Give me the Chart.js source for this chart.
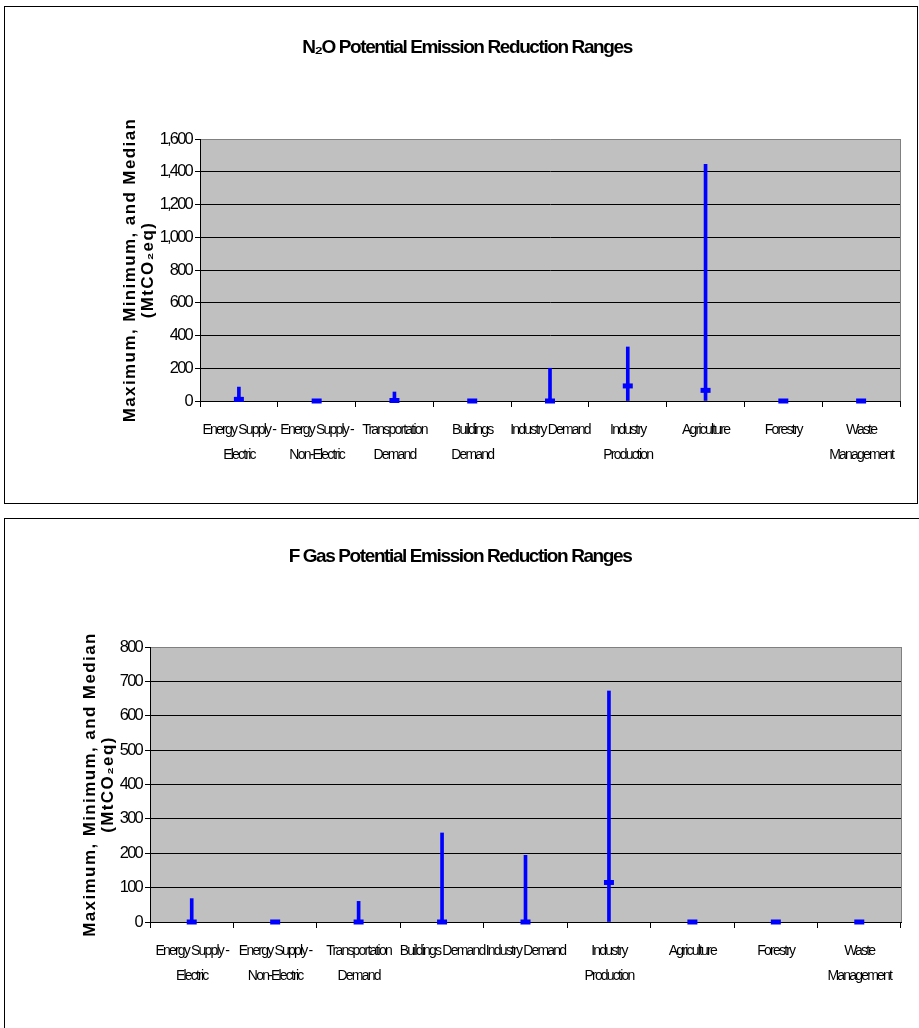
<!DOCTYPE html>
<html>
<head>
<meta charset="utf-8">
<title>N2O and F-Gas Potential Emission Reduction Ranges</title>
<script src="https://cdn.jsdelivr.net/npm/chart.js@4.4.0/dist/chart.umd.min.js"></script>
<style>
  html, body { margin: 0; padding: 0; background: #fff; }
  body { position: relative; width: 919px; height: 1028px; overflow: hidden; }
  .frame { position: absolute; border: 1px solid #000; box-sizing: border-box; }
  .wrap { position: absolute; left: 0; width: 919px; }
</style>
</head>
<body>
<div class="frame" style="left:4px;top:6px;width:914px;height:498px;"></div>
<div class="frame" style="left:4px;top:518px;width:930px;height:540px;"></div>
<div class="wrap" style="top:0;height:512px;"><canvas id="n2oChart"></canvas></div>
<div class="wrap" style="top:512px;height:516px;"><canvas id="fgasChart"></canvas></div>

<script>
// Sector categories (label lines as drawn under each axis)
const n2oSectors = [
  ['Energy Supply -', 'Electric'], ['Energy Supply -', 'Non-Electric'],
  ['Transportation', 'Demand'], ['Buildings', 'Demand'], 'Industry Demand',
  ['Industry', 'Production'], 'Agriculture', 'Forestry', ['Waste', 'Management']
];
const fgasSectors = [
  ['Energy Supply -', 'Electric'], ['Energy Supply -', 'Non-Electric'],
  ['Transportation', 'Demand'], 'Buildings Demand', 'Industry Demand',
  ['Industry', 'Production'], 'Agriculture', 'Forestry', ['Waste', 'Management']
];

// N2O potential reduction (MtCO2eq)
const n2oMax    = [85, 0, 55, 0, 200, 330, 1445, 0, 0];
const n2oMin    = [0, 0, 0, 0, 0, 0, 0, 0, 0];
const n2oMedian = [10, 0, 3, 0, 0, 92, 65, 0, 0];

// F-Gas potential reduction (MtCO2eq)
const fgasMax    = [68, 0, 60, 259, 194, 672, 0, 0, 0];
const fgasMin    = [0, 0, 0, 0, 0, 0, 0, 0, 0];
const fgasMedian = [0, 0, 0, 0, 0, 115, 0, 0, 0];

// Value axis ranges
const n2oAxis  = { min: 0, max: 1600, step: 200 };
const fgasAxis = { min: 0, max: 800, step: 100 };

const axisTitleLines = ['Maximum, Minimum, and Median', '(MtCO\u2082eq)'];
const FAMILY = '"Liberation Sans", Arial, "DejaVu Sans", sans-serif';
const BLUE = '#0000FF';

// Condensed tracking for all library-drawn text (tick labels)
const tracking = {
  id: 'tracking',
  beforeUpdate(chart) { chart.ctx.letterSpacing = '-1.8px'; },
  beforeDraw(chart) { chart.ctx.letterSpacing = '-1.8px'; }
};

// Grey plot area fill plus grey right-hand edge
const plotFrame = {
  id: 'plotFrame',
  beforeDraw(chart) {
    const { ctx, chartArea: a } = chart;
    ctx.save();
    ctx.fillStyle = '#C0C0C0';
    ctx.fillRect(a.left, a.top, a.right - a.left, a.bottom - a.top);
    ctx.strokeStyle = '#808080';
    ctx.lineWidth = 1;
    ctx.beginPath();
    ctx.moveTo(Math.round(a.right) + 0.5, a.top);
    ctx.lineTo(Math.round(a.right) + 0.5, a.bottom);
    ctx.stroke();
    ctx.restore();
  }
};

// Chart heading and two-line rotated value-axis caption
const captions = {
  id: 'captions',
  afterDraw(chart, args, opts) {
    const ctx = chart.ctx;
    const a = chart.chartArea;
    ctx.save();
    ctx.fillStyle = '#000';
    ctx.textAlign = 'center';
    ctx.textBaseline = 'middle';
    ctx.font = 'bold 19px ' + FAMILY;
    ctx.letterSpacing = '-1.4px';
    ctx.fillText(opts.title, opts.titleX, opts.titleY);
    ctx.translate(opts.axisX, (a.top + a.bottom) / 2);
    ctx.rotate(-Math.PI / 2);
    ctx.font = 'bold 17px ' + FAMILY;
    ctx.letterSpacing = '1.4px';
    opts.axisLines.forEach((t, i) => ctx.fillText(t, 0, i * 18));
    ctx.restore();
  }
};

function buildChart(id, cfg) {
  const { labels, max, min, median, axis, frame, title } = cfg;
  return new Chart(document.getElementById(id), {
    data: {
      labels: labels,
      datasets: [
        {
          type: 'bar',
          label: 'Range',
          data: min.map((v, i) => [v, max[i]]),
          backgroundColor: BLUE,
          borderWidth: 0,
          barThickness: 3,
          clip: false,
          order: 2
        },
        {
          type: 'line',
          label: 'Median',
          data: median,
          showLine: false,
          pointStyle: 'line',
          pointRadius: 5,
          pointBorderWidth: 5,
          pointBorderColor: BLUE,
          pointBackgroundColor: BLUE,
          clip: false,
          order: 1
        }
      ]
    },
    options: {
      responsive: true,
      maintainAspectRatio: false,
      animation: false,
      events: [],
      layout: { padding: { top: frame.top, right: frame.right, left: 0, bottom: 0 } },
      plugins: {
        legend: { display: false },
        tooltip: { enabled: false },
        title: { display: false },
        captions: {
          title: title,
          titleX: frame.titleX, titleY: frame.titleY,
          axisX: frame.axisX,
          axisLines: axisTitleLines
        }
      },
      scales: {
        x: {
          type: 'category',
          offset: true,
          grid: { display: true, offset: true, drawOnChartArea: false, drawTicks: true,
                  tickLength: 6, color: '#000', tickColor: '#000' },
          border: { display: true, color: '#000', width: 1 },
          ticks: { color: '#000', autoSkip: false, maxRotation: 0, minRotation: 0,
                   padding: 11, font: { family: FAMILY, size: 14, lineHeight: 25 / 14 } },
          afterFit(scale) { scale.height = frame.xHeight; }
        },
        y: {
          min: axis.min, max: axis.max,
          grid: {
            color: c => (c.tick && c.tick.value === axis.max ? '#808080' : '#000'),
            tickColor: '#000', lineWidth: 1, tickLength: 5, drawTicks: true
          },
          border: { display: true, color: '#000', width: 1 },
          ticks: { stepSize: axis.step, color: '#000', padding: 3,
                   font: { family: FAMILY, size: 16.5 },
                   callback: v => v.toLocaleString('en-US') },
          afterFit(scale) { scale.width = frame.left; }
        }
      }
    },
    plugins: [tracking, plotFrame, captions]
  });
}

buildChart('n2oChart', {
  labels: n2oSectors, max: n2oMax, min: n2oMin, median: n2oMedian, axis: n2oAxis,
  title: 'N\u2082O Potential Emission Reduction Ranges',
  frame: { top: 139, right: 19, left: 200, xHeight: 111,
           titleX: 467, titleY: 48, axisX: 130 }
});

buildChart('fgasChart', {
  labels: fgasSectors, max: fgasMax, min: fgasMin, median: fgasMedian, axis: fgasAxis,
  title: 'F Gas Potential Emission Reduction Ranges',
  frame: { top: 135, right: 18, left: 150, xHeight: 106,
           titleX: 460, titleY: 45, axisX: 90 }
});
</script>
</body>
</html>
